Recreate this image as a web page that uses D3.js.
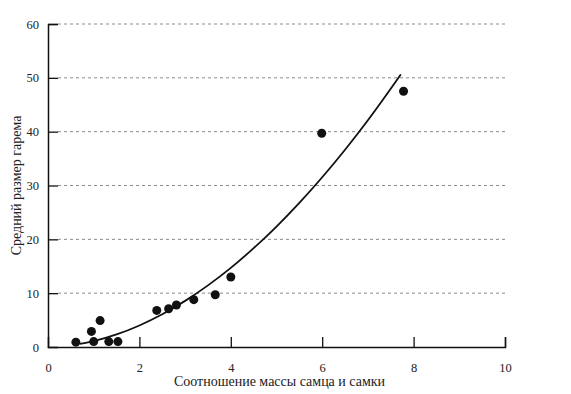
<!DOCTYPE html>
<html>
<head>
<meta charset="utf-8">
<script src="https://cdn.jsdelivr.net/npm/d3@7"></script>
<style>
  body { margin: 0; background: #fff; }
  text { font-family: "Liberation Serif", "DejaVu Serif", serif; fill: #222; }
</style>
</head>
<body>
<div id="chart"></div>
<script>
// points
const ratio = [0.61, 0.95, 1.0, 1.14, 1.33, 1.53, 2.38, 2.64, 2.81, 3.19, 3.66, 4.0, 5.99, 7.78];
const harem = [0.9, 2.9, 1.0, 4.9, 1.0, 1.0, 6.8, 7.1, 7.8, 8.8, 9.7, 13.0, 39.7, 47.5];

// fitted curve
const curveX = [0.7, 1, 1.5, 2, 2.5, 3, 3.5, 4, 4.5, 5, 5.5, 6, 6.5, 7, 7.72];
const curveY = [0.56, 1.09, 2.33, 4.0, 6.08, 8.57, 11.45, 14.7, 18.36, 22.38, 26.77, 31.53, 36.65, 42.13, 50.64];

const xTicks = [0, 2, 4, 6, 8, 10];
const yTicks = [0, 10, 20, 30, 40, 50, 60];

const margin = {top: 24, right: 66, bottom: 47, left: 48};
const W = 571, H = 394;
const w = W - margin.left - margin.right;
const h = H - margin.top - margin.bottom;

const svg = d3.select('#chart').append('svg')
    .attr('width', W)
    .attr('height', H);

const g = svg.append('g')
    .attr('transform', `translate(${margin.left},${margin.top})`);

const x = d3.scaleLinear().domain([0, 10]).range([0, w]);
const y = d3.scaleLinear().domain([0, 60]).range([h, 0]);

// dashed grid
g.append('g').selectAll('line')
  .data(yTicks.filter(d => d > 0))
  .enter().append('line')
    .attr('x1', 10).attr('x2', w)
    .attr('y1', d => y(d)).attr('y2', d => y(d))
    .attr('stroke', '#8a8a8a')
    .attr('stroke-width', 1)
    .attr('stroke-dasharray', '3,3');

// axes
let yAxis = g.append('g')
    .call(d3.axisLeft(y).tickValues(yTicks).tickSize(-10).tickPadding(18));
let xAxis = g.append('g')
    .attr('transform', `translate(0,${h})`)
    .call(d3.axisBottom(x).tickValues(xTicks).tickSize(-10).tickPadding(16));

[xAxis, yAxis].forEach(a => {
  a.attr('font-family', '"Liberation Serif", serif').attr('font-size', 12.5);
  a.select('.domain').attr('stroke', '#111').attr('stroke-width', 1.5);
  a.selectAll('.tick line').attr('stroke', '#111').attr('stroke-width', 1.3);
  a.selectAll('.tick text').attr('fill', '#222');
});
yAxis.selectAll('.tick text').attr('x', -9);
xAxis.selectAll('.tick').filter(d => d === 0).select('line').remove();
yAxis.selectAll('.tick').filter(d => d === 0).select('line').remove();

// curve
const line = d3.line()
    .x((d, i) => x(curveX[i]))
    .y(d => y(d))
    .curve(d3.curveMonotoneX);

g.append('path')
    .attr('d', line(curveY))
    .attr('fill', 'none')
    .attr('stroke', '#111')
    .attr('stroke-width', 1.8);

// points
g.append('g').selectAll('circle')
  .data(ratio)
  .enter().append('circle')
    .attr('cx', d => x(d))
    .attr('cy', (d, i) => y(harem[i]))
    .attr('r', 4.5)
    .attr('fill', '#111');

// labels
g.append('text')
    .attr('x', w / 2 + 3)
    .attr('y', h + 39)
    .attr('text-anchor', 'middle')
    .style('font-size', '14px')
    .text('Соотношение массы самца и самки');

g.append('text')
    .attr('transform', `translate(-27,${h / 2}) rotate(-90)`)
    .attr('text-anchor', 'middle')
    .style('font-size', '14px')
    .text('Средний размер гарема');
</script>
</body>
</html>
